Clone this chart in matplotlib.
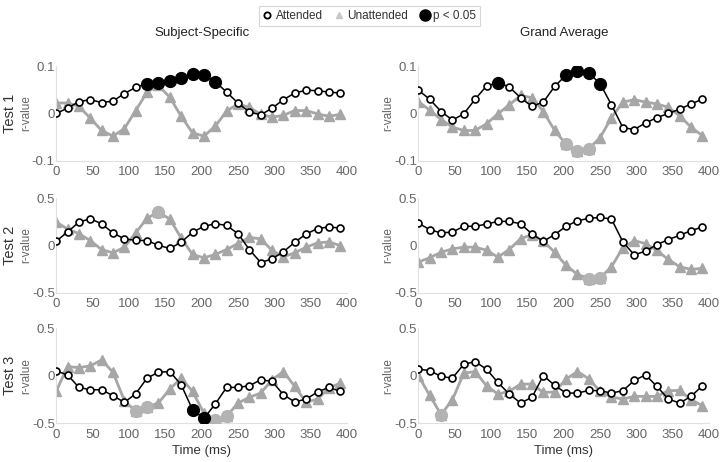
import matplotlib.pyplot as plt
from matplotlib.lines import Line2D

plt.rcParams['font.family'] = ['Liberation Sans', 'DejaVu Sans']

# time points (ms), 64 Hz sampling
t = [0, 15.6, 31.3, 46.9, 62.5, 78.1, 93.8, 109.4, 125, 140.6, 156.3, 171.9, 187.5,
     203.1, 218.8, 234.4, 250, 265.6, 281.3, 296.9, 312.5, 328.1, 343.8, 359.4, 375, 390.6]

# Test 1
ss1_att = [0.0, 0.011, 0.025, 0.029, 0.023, 0.026, 0.042, 0.055, 0.063, 0.065, 0.068, 0.075, 0.083,
           0.081, 0.067, 0.045, 0.022, 0.003, -0.003, 0.011, 0.029, 0.043, 0.049, 0.048, 0.045, 0.043]
ss1_una = [0.022, 0.022, 0.015, -0.010, -0.036, -0.048, -0.032, 0.006, 0.045, 0.059, 0.034, -0.006, -0.041,
           -0.048, -0.027, 0.005, 0.020, 0.013, -0.002, -0.008, -0.004, 0.006, 0.006, -0.001, -0.006, -0.002]
ga1_att = [0.049, 0.030, 0.004, -0.014, -0.001, 0.030, 0.058, 0.065, 0.056, 0.033, 0.015, 0.024, 0.057,
           0.081, 0.090, 0.085, 0.063, 0.018, -0.030, -0.034, -0.020, -0.009, 0.0, 0.009, 0.020, 0.030]
ga1_una = [0.025, 0.007, -0.013, -0.029, -0.036, -0.036, -0.022, -0.001, 0.018, 0.038, 0.033, 0.004, -0.036,
           -0.065, -0.080, -0.075, -0.051, -0.009, 0.024, 0.029, 0.024, 0.020, 0.013, -0.005, -0.029, -0.047]

# Test 2
ss2_att = [0.045, 0.143, 0.248, 0.283, 0.23, 0.133, 0.07, 0.056, 0.052, 0.003, -0.031, 0.035, 0.14,
           0.203, 0.23, 0.213, 0.126, -0.042, -0.18, -0.14, -0.066, 0.035, 0.122, 0.18, 0.196, 0.185]
ss2_una = [0.248, 0.175, 0.126, 0.052, -0.042, -0.077, -0.017, 0.133, 0.29, 0.353, 0.28, 0.08, -0.094,
           -0.129, -0.094, -0.042, 0.021, 0.087, 0.07, -0.052, -0.119, -0.077, -0.017, 0.028, 0.038, 0.0]
ga2_att = [0.238, 0.168, 0.133, 0.143, 0.203, 0.203, 0.227, 0.255, 0.255, 0.23, 0.122, 0.045, 0.115,
           0.203, 0.262, 0.287, 0.297, 0.28, 0.038, -0.098, -0.059, 0.01, 0.063, 0.108, 0.157, 0.196]
ga2_una = [-0.175, -0.129, -0.07, -0.035, -0.017, -0.017, -0.049, -0.122, -0.042, 0.073, 0.115, 0.045, -0.07,
           -0.21, -0.304, -0.35, -0.34, -0.224, -0.024, 0.052, 0.021, -0.052, -0.147, -0.224, -0.252, -0.241]

# Test 3
ss3_att = [0.052, 0.01, -0.122, -0.147, -0.147, -0.21, -0.28, -0.189, -0.024, 0.038, 0.045, -0.094, -0.357,
           -0.45, -0.297, -0.122, -0.122, -0.105, -0.042, -0.059, -0.199, -0.276, -0.245, -0.171, -0.122, -0.164]
ss3_una = [-0.164, 0.098, 0.087, 0.105, 0.168, 0.038, -0.262, -0.374, -0.329, -0.287, -0.14, -0.024, -0.164,
           -0.392, -0.468, -0.427, -0.287, -0.227, -0.182, -0.042, 0.045, -0.112, -0.28, -0.245, -0.129, -0.077]
ga3_att = [0.07, 0.056, -0.007, -0.024, 0.122, 0.15, 0.07, -0.07, -0.192, -0.287, -0.227, 0.003, -0.101,
           -0.182, -0.182, -0.154, -0.157, -0.182, -0.157, -0.049, 0.01, -0.112, -0.245, -0.287, -0.217, -0.105]
ga3_una = [0.003, -0.206, -0.409, -0.252, 0.028, 0.045, -0.105, -0.192, -0.164, -0.087, -0.087, -0.175, -0.171,
           -0.035, 0.045, -0.031, -0.164, -0.224, -0.245, -0.217, -0.217, -0.217, -0.157, -0.154, -0.252, -0.315]

# indices of p < 0.05 samples (attended, unattended)
sig = {
    (0, 0): ([8, 9, 10, 11, 12, 13, 14], []),
    (0, 1): ([7, 13, 14, 15, 16], [13, 14, 15]),
    (1, 0): ([], [9]),
    (1, 1): ([], [15, 16]),
    (2, 0): ([12, 13], [7, 8, 14, 15]),
    (2, 1): ([], [2]),
}

data = [[(ss1_att, ss1_una), (ga1_att, ga1_una)],
        [(ss2_att, ss2_una), (ga2_att, ga2_una)],
        [(ss3_att, ss3_una), (ga3_att, ga3_una)]]

ylims = [0.1, 0.5, 0.5]
tests = ['Test 1', 'Test 2', 'Test 3']

GRAY = '#a6a6a6'
SIGGRAY = '#b3b3b3'
TICK = '#666666'

fig = plt.figure(figsize=(7.2, 4.62), dpi=100)
lefts = [0.078, 0.581]
bottoms = [0.652, 0.366, 0.084]
w = 0.404
h = 0.205

for r in range(3):
    for c in range(2):
        ax = fig.add_axes([lefts[c], bottoms[r], w, h])
        att, una = data[r][c]
        ax.plot(t, una, '-', color=GRAY, lw=2, marker='^', ms=6.5,
                mfc=GRAY, mec=GRAY, zorder=2)
        ax.plot(t, att, '-', color='black', lw=1.1, marker='o', ms=5,
                mfc='white', mec='black', mew=1.2, zorder=3)
        sa, su = sig[(r, c)]
        ax.plot([t[i] for i in su], [una[i] for i in su], 'o', ms=8.5,
                color=SIGGRAY, zorder=4)
        ax.plot([t[i] for i in sa], [att[i] for i in sa], 'o', ms=8.5,
                color='black', zorder=5)

        yl = ylims[r]
        ax.set_xlim(0, 400)
        ax.set_ylim(-yl, yl)
        ax.set_xticks(range(0, 401, 50))
        ax.set_yticks([-yl, 0, yl])
        ax.set_yticklabels([f'{-yl:g}', '0', f'{yl:g}'])
        for s in ['top', 'right']:
            ax.spines[s].set_visible(False)
        for s in ['left', 'bottom']:
            ax.spines[s].set_color('#e0e0e0')
            ax.spines[s].set_linewidth(0.8)
        ax.tick_params(length=0, labelsize=9.5, colors=TICK)
        ax.tick_params(axis='y', pad=1)
        ax.tick_params(axis='x', pad=4)
        ax.set_ylabel('r-value', fontsize=8.5, color=TICK, labelpad=0)
        if c == 0:
            ax.text(-0.16, 0.5, tests[r], transform=ax.transAxes, rotation=90,
                    ha='center', va='center', fontsize=10.5, color='#333333')
        if r == 2:
            ax.set_xlabel('Time (ms)', fontsize=9.5, color='#333333', labelpad=3)
        if r == 0:
            ax.set_title(['Subject-Specific', 'Grand Average'][c], fontsize=9.5,
                         color='#222222', pad=22)

handles = [
    Line2D([], [], ls='none', marker='o', ms=4.5, mfc='white', mec='black', mew=1.3),
    Line2D([], [], ls='none', marker='^', ms=5, mfc='#c8c8c8', mec='#c8c8c8'),
    Line2D([], [], ls='none', marker='o', ms=8, color='black'),
]
leg = fig.legend(handles, ['Attended', 'Unattended', 'p < 0.05'], loc='upper center',
                 bbox_to_anchor=(0.513, 1.0), ncol=3, fontsize=8.5, frameon=True,
                 fancybox=False, handlelength=0.8, handletextpad=0.3, columnspacing=1.0,
                 borderpad=0.35)
leg.get_frame().set_edgecolor('#cccccc')
leg.get_frame().set_linewidth(0.8)
for txt in leg.get_texts():
    txt.set_color('#333333')

fig.savefig('out.png', dpi=100)
